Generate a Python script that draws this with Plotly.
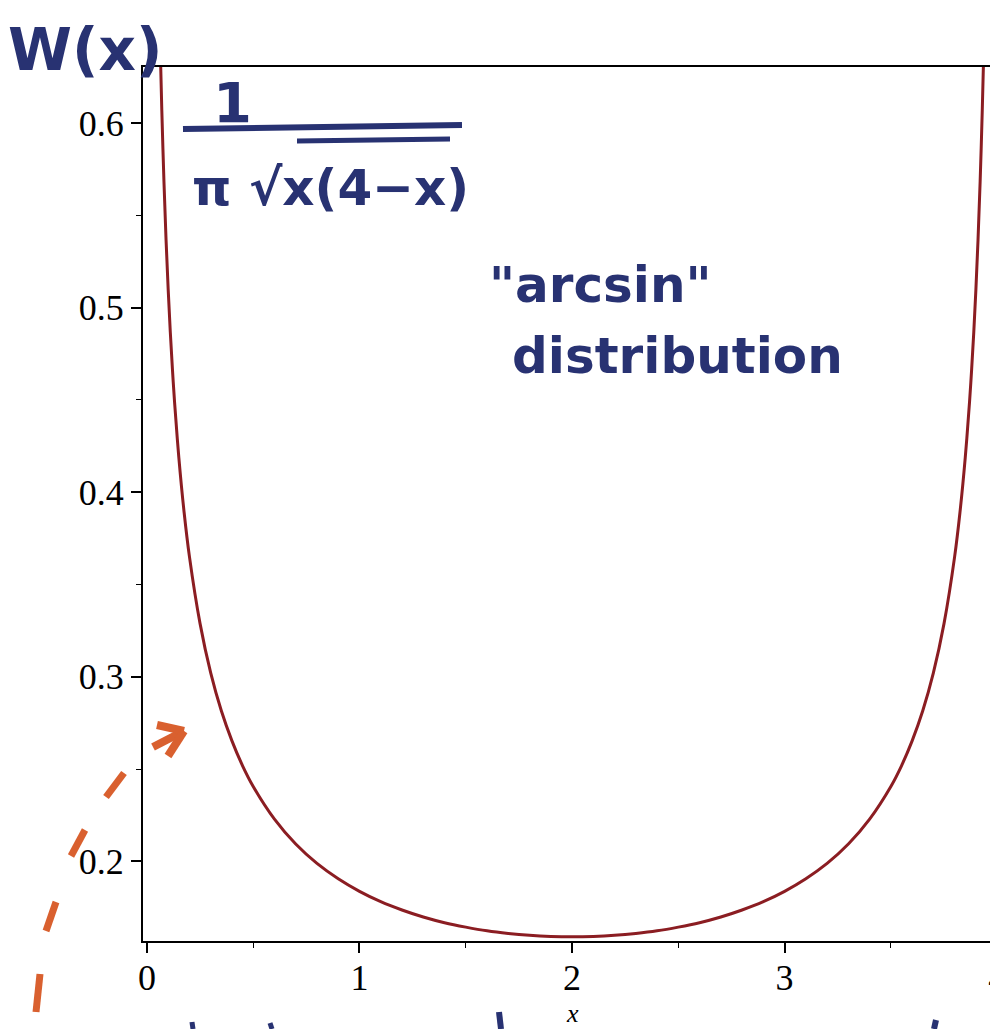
import plotly.graph_objects as go

x_vals = [0.064, 0.07, 0.08, 0.09, 0.10, 0.11, 0.12, 0.13, 0.15, 0.175, 0.20, 0.25,
          0.30, 0.35, 0.40, 0.45, 0.50, 0.60, 0.70, 0.80, 0.90, 1.00, 1.10, 1.20,
          1.30, 1.40, 1.50, 1.60, 1.70, 1.80, 1.90, 2.00, 2.10, 2.20, 2.30, 2.40,
          2.50, 2.60, 2.70, 2.80, 2.90, 3.00, 3.10, 3.20, 3.30, 3.40, 3.50, 3.55,
          3.60, 3.65, 3.70, 3.75, 3.80, 3.825, 3.85, 3.87, 3.88, 3.89, 3.90, 3.91,
          3.92, 3.93, 3.936]
w_vals = [0.6342, 0.6069, 0.5684, 0.5366, 0.5097, 0.4866, 0.4665, 0.4488, 0.4189, 0.3890, 0.3651, 0.3288,
          0.3021, 0.2816, 0.2653, 0.2518, 0.2406, 0.2229, 0.2094, 0.1989, 0.1906, 0.1838, 0.1782, 0.1737,
          0.1699, 0.1668, 0.1644, 0.1624, 0.1610, 0.1600, 0.1594, 0.1592, 0.1594, 0.1600, 0.1610, 0.1624,
          0.1644, 0.1668, 0.1699, 0.1737, 0.1782, 0.1838, 0.1906, 0.1989, 0.2094, 0.2229, 0.2406, 0.2518,
          0.2653, 0.2816, 0.3021, 0.3288, 0.3651, 0.3890, 0.4189, 0.4488, 0.4665, 0.4866, 0.5097, 0.5366,
          0.5684, 0.6069, 0.6342]

x_ticks = [0, 1, 2, 3, 4]
y_ticks = [0.2, 0.3, 0.4, 0.5, 0.6]

# page puts the figure 8px in from the top-left corner
OFF = 8
W, H = 998 - OFF, 1029 - OFF
L, R, T, B = 143 - OFF, 0, 67 - OFF, 88
PW, PH = W - L - R, H - T - B

NAVY = "#283272"
ORANGE = "#d9602f"
HAND = "DejaVu Sans"


def px(x):
    return (x - OFF - L) / PW


def py(y):
    return (T + PH - (y - OFF)) / PH


fig = go.Figure()
fig.add_trace(go.Scatter(
    x=x_vals, y=w_vals, mode="lines",
    line=dict(color="#8b1d22", width=3, shape="spline", smoothing=1.0),
    hoverinfo="skip", showlegend=False,
))

tickfont = dict(family="Liberation Serif", size=36, color="black")

fig.update_xaxes(
    range=[-0.0185, 4.004], tickvals=x_ticks, ticks="outside", ticklen=10, tickwidth=1.6,
    tickcolor="black", showline=True, linecolor="black", linewidth=2, mirror=True,
    showgrid=False, zeroline=False, tickfont=tickfont, ticklabelstandoff=-6,
    ticklabeloverflow="allow",
    minor=dict(ticks="outside", dtick=0.5, tick0=0, ticklen=5, tickwidth=1.4, tickcolor="black"),
)
fig.update_yaxes(
    range=[0.1569, 0.6303], tickvals=y_ticks, ticks="outside", ticklen=10, tickwidth=1.6,
    tickcolor="black", showline=True, linecolor="black", linewidth=2, mirror=True,
    showgrid=False, zeroline=False, tickfont=tickfont,
    minor=dict(ticks="outside", dtick=0.05, tick0=0, ticklen=5, tickwidth=1.4, tickcolor="black"),
)

annotations = [
    dict(x=2, xref="x", y=py(1013), text="<i>x</i>",
         font=dict(family="Liberation Serif", size=26, color="black")),
    dict(x=px(85), y=py(50), text="<b>W(x)</b>", font=dict(family=HAND, size=58, color=NAVY)),
    dict(x=px(232), y=py(103), text="<b>1</b>", font=dict(family=HAND, size=56, color=NAVY)),
    dict(x=px(330), y=py(188), text="<b>π √x(4−x)</b>", font=dict(family=HAND, size=50, color=NAVY)),
    dict(x=px(600), y=py(285), text="<b>\"arcsin\"</b>", font=dict(family=HAND, size=50, color=NAVY)),
    dict(x=px(677), y=py(356), text="<b>distribution</b>", font=dict(family=HAND, size=50, color=NAVY)),
]
for a in annotations:
    a.setdefault("xref", "paper")
    a.setdefault("yref", "paper")
    a.setdefault("showarrow", False)
    a.setdefault("xanchor", "center")
    a.setdefault("yanchor", "middle")

shapes = []


def stroke(x0, y0, x1, y1, color, width):
    shapes.append(dict(type="line", xref="paper", yref="paper",
                       x0=px(x0), y0=py(y0), x1=px(x1), y1=py(y1),
                       line=dict(color=color, width=width)))


# fraction bar and root overline
stroke(183, 129, 462, 125, NAVY, 6)
stroke(297, 141, 450, 139, NAVY, 5)

# orange dashed arrow
stroke(40, 974, 36, 1012, ORANGE, 7)
stroke(56, 902, 46, 931, ORANGE, 7)
stroke(85, 830, 71, 856, ORANGE, 7)
stroke(124, 773, 106, 797, ORANGE, 7)
stroke(153, 747, 184, 731, ORANGE, 8)
stroke(157, 725, 184, 731, ORANGE, 8)
stroke(168, 756, 184, 731, ORANGE, 8)

# ink marks cut off at the bottom edge
stroke(192, 1022, 193, 1029, NAVY, 5)
stroke(270, 1023, 272, 1029, NAVY, 5)
stroke(499, 1012, 501, 1029, NAVY, 6)
stroke(936, 1020, 934, 1029, NAVY, 6)

fig.update_layout(
    width=W, height=H,
    margin=dict(l=L, r=R, t=T, b=B, autoexpand=False),
    plot_bgcolor="white", paper_bgcolor="white",
    annotations=annotations, shapes=shapes,
)

fig.write_html("out.html")
